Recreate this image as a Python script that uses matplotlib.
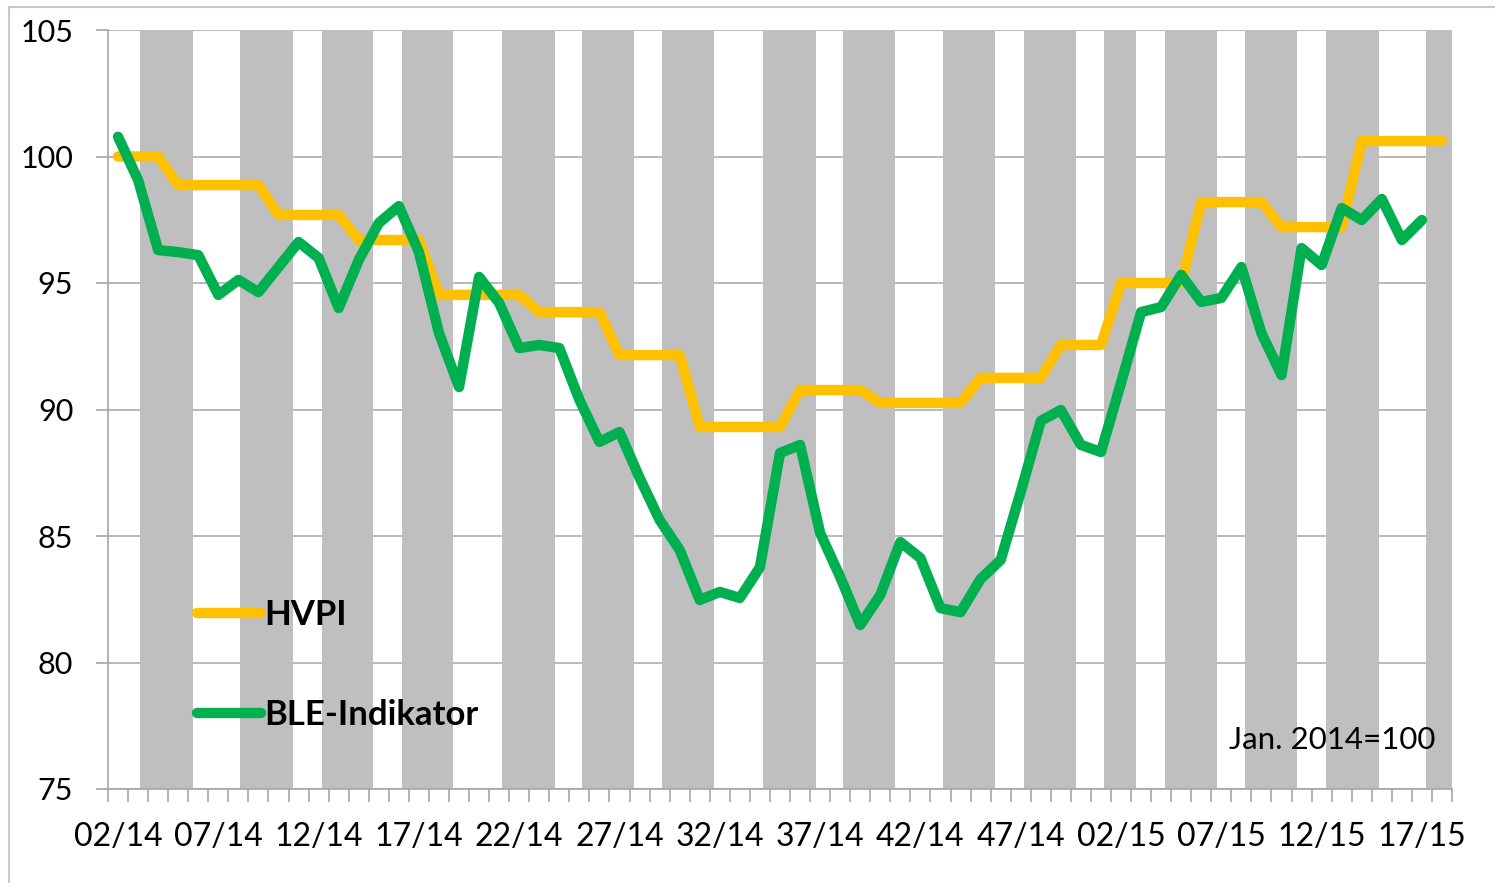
import matplotlib.pyplot as plt
from matplotlib.lines import Line2D
import numpy as np

plt.rcParams['font.family'] = ['Lato', 'DejaVu Sans']

# week categories (02/14 .. 51/14, 02/15 .. 18/15)
weeks = [f"{w:02d}/14" for w in range(2, 52)] + [f"{w:02d}/15" for w in range(2, 19)]

hvpi = [100.0, 100.0, 100.0,
        98.87, 98.87, 98.87, 98.87, 98.87,
        97.69, 97.69, 97.69, 97.69,
        96.70, 96.70, 96.70, 96.70,
        94.53, 94.53, 94.53, 94.53, 94.53,
        93.85, 93.85, 93.85, 93.85,
        92.15, 92.15, 92.15, 92.15,
        89.31, 89.31, 89.31, 89.31, 89.31,
        90.77, 90.77, 90.77, 90.77,
        90.26, 90.26, 90.26, 90.26, 90.26,
        91.25, 91.25, 91.25, 91.25,
        92.55, 92.55, 92.55,
        95.00, 95.00, 95.00, 95.00,
        98.20, 98.20, 98.20, 98.20,
        97.21, 97.21, 97.21, 97.21,
        100.61, 100.61, 100.61, 100.61, 100.61]

ble = [100.78, 99.07, 96.30, 96.22, 96.10, 94.53, 95.12, 94.64, 95.63, 96.62,
       95.99, 94.01, 95.91, 97.37, 98.04, 96.22, 93.02, 90.89, 95.24, 94.21,
       92.43, 92.55, 92.43, 90.38, 88.72, 89.11, 87.30, 85.63, 84.45, 82.47,
       82.79, 82.55, 83.77, 88.28, 88.60, 85.12, 83.38, 81.48, 82.67, 84.76,
       84.13, 82.15, 81.99, 83.30, 84.05, 86.74, 89.55, 89.98, 88.60, 88.32,
       91.05, 93.85, 94.05, 95.32, 94.25, 94.41, 95.63, 93.02, 91.36, 96.38,
       95.71, 97.96, 97.49, 98.32, 96.70, 97.49, np.nan]

# grey background columns (in week-index units)
band_start = [1.10, 6.08, 10.17, 14.16, 19.14, 23.13, 27.12, 32.15,
              36.14, 41.13, 45.16, 49.15, 52.19, 56.18, 60.23, 65.21]
band_end = [3.74, 8.72, 12.71, 16.70, 21.78, 25.72, 29.71, 34.79,
            38.73, 43.72, 47.75, 50.75, 54.78, 58.77, 62.87, 66.5]

W, H = 1495, 883
fig = plt.figure(figsize=(W / 100, H / 100), dpi=100)
ax = fig.add_axes([108 / W, 1 - 789 / H, 1344 / W, 759 / H])

x = np.arange(len(weeks))
ax.set_xlim(-0.5, len(weeks) - 0.5)
ax.set_ylim(75, 105)

for s, e in zip(band_start, band_end):
    ax.axvspan(s, e, color='#bfbfbf', lw=0, zorder=1)

ax.plot(x, hvpi, color='#ffc000', lw=7.5, solid_capstyle='round',
        solid_joinstyle='round', zorder=3, label='HVPI')
ax.plot(x, ble, color='#00b050', lw=7.5, solid_capstyle='round',
        solid_joinstyle='round', zorder=4, label='BLE-Indikator')

ax.set_axisbelow(True)
ax.yaxis.grid(True, color='#b3b3b3', lw=1.3)
for side in ('top', 'right'):
    ax.spines[side].set_visible(False)
for side in ('left', 'bottom'):
    ax.spines[side].set_color('#a6a6a6')
    ax.spines[side].set_linewidth(1.2)

ax.set_yticks(range(75, 106, 5))
ax.tick_params(axis='y', length=9, color='#a6a6a6', width=1.2, labelsize=22, pad=16)

ax.set_xticks(x[::5])
ax.set_xticklabels(weeks[::5])
ax.set_xticks(np.arange(-0.5, len(weeks), 1), minor=True)
ax.tick_params(axis='x', which='major', length=0, labelsize=23, pad=24)
ax.tick_params(axis='x', which='minor', length=9, color='#a6a6a6', width=1.2)

ax.legend(loc='center left', bbox_to_anchor=((197 - 108) / 1344, (789 - 665) / 759),
          frameon=False, borderpad=0, borderaxespad=0, handlelength=1.85,
          handletextpad=0.08, labelspacing=1.95,
          prop={'weight': 'bold', 'size': 25})

ax.text((1435 - 108) / 1344, (789 - 740) / 759, 'Jan. 2014=100', transform=ax.transAxes,
        ha='right', va='center', fontsize=22.5)

# thin chart border (left and top)
fig.add_artist(Line2D([9 / W, 9 / W], [0, 1 - 7 / H], color='#c8c8c8', lw=1.5))
fig.add_artist(Line2D([9 / W, 1], [1 - 7 / H, 1 - 7 / H], color='#c8c8c8', lw=1.5))

fig.savefig('out.png', dpi=100)
plt.close(fig)
